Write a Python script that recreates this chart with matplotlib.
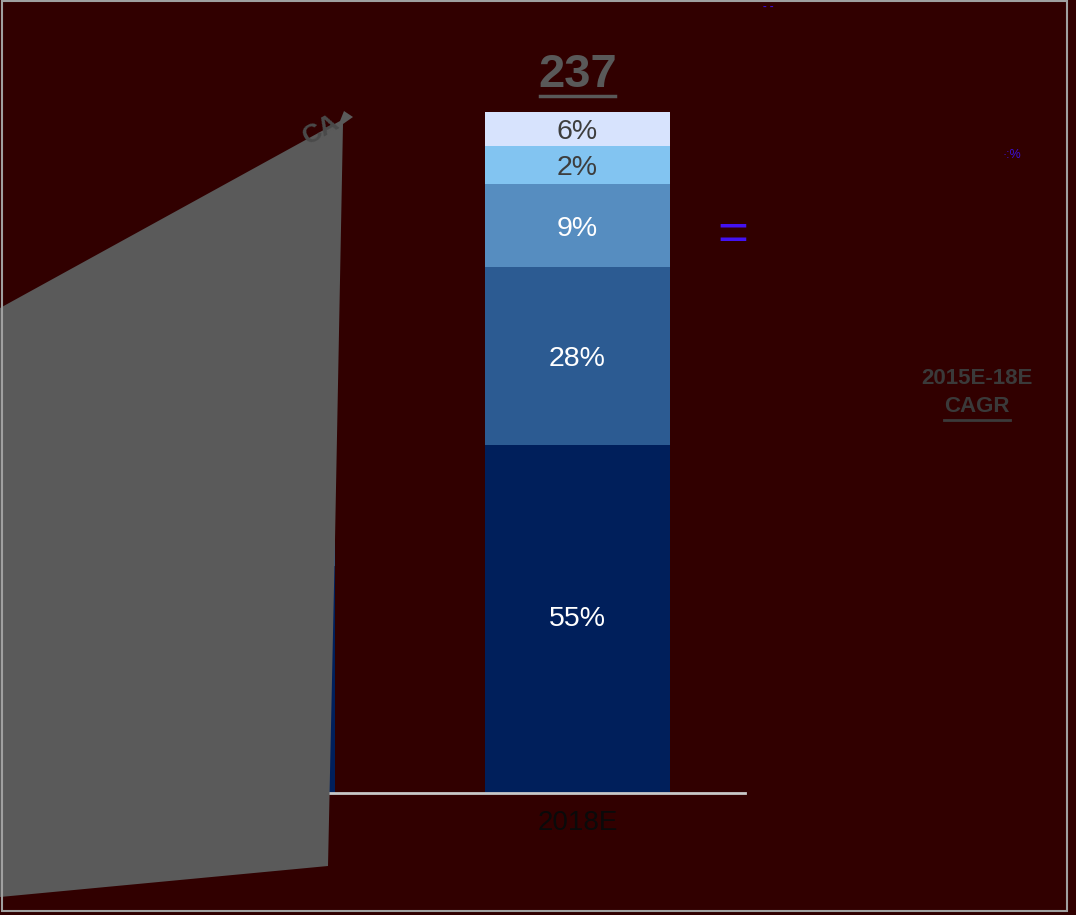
import matplotlib
matplotlib.use("Agg")
import matplotlib.pyplot as plt
from matplotlib.patches import Polygon, Rectangle
from matplotlib.lines import Line2D
import numpy as np

plt.rcParams['font.family'] = ['Liberation Sans', 'DejaVu Sans']

# ---- data ----
categories = ["2015E", "2018E"]
totals = [149, 237]
seg_2015 = [79, 38, 14, 8, 10]          # mostly hidden behind the overlay shape
seg_2018 = [121, 62, 29, 13, 12]        # drawn heights
share_labels_2018 = ["55%", "28%", "9%", "2%", "6%"]
seg_colors = ["#001f5b", "#2c5b92", "#568dc0", "#82c4f1", "#d7e3fd"]
label_colors = ["white", "white", "white", "#3d3d3d", "#3d3d3d"]
cagr_label = ["2015E-18E", "CAGR"]

BG = "#310000"
W, H = 1076, 915
fig = plt.figure(figsize=(W / 100, H / 100), dpi=100, facecolor=BG)

# main axes (pixel frame: x 329..745, y 20..793)
ax_l, ax_r, ax_t, ax_b = 329, 745, 20, 793
ax = fig.add_axes([ax_l / W, (H - ax_b) / H, (ax_r - ax_l) / W, (ax_b - ax_t) / H])
ax.set_facecolor(BG)
px_per_unit = 681 / 237.0
spacing = 335.0
x = np.arange(len(categories))
width = 185 / spacing

segs = [seg_2015, seg_2018]
for i, s in enumerate(segs):
    bottom = 0
    for j, v in enumerate(s):
        ax.bar(x[i], v, width=width, bottom=bottom, color=seg_colors[j],
               edgecolor="none", zorder=2)
        if i == 1:
            ax.text(x[i], bottom + v / 2, share_labels_2018[j], ha="center",
                    va="center" if j == 0 else "center_baseline",
                    fontsize=20.5, color=label_colors[j], zorder=3)
        bottom += v

for side in ["left", "right", "top"]:
    ax.spines[side].set_visible(False)
ax.spines["bottom"].set_color("#c8c8c8")
ax.spines["bottom"].set_linewidth(2)
ax.set_yticks([])
ax.set_xticks(x)
ax.set_xticklabels(categories, fontsize=20, color="#0a0a0a")
ax.tick_params(axis="x", length=0, pad=12)
ax.set_xlim(1 - (577.5 - ax_l) / spacing, 1 + (ax_r - 577.5) / spacing)
ax.set_ylim(0, (ax_b - ax_t) / px_per_unit)

t237 = ax.annotate(str(totals[1]), xy=(x[1], sum(seg_2018)), xytext=(0, 18),
                   textcoords="offset points", ha="center", va="baseline",
                   fontsize=34, fontweight="bold", color="#595959")

# overlay in pixel coordinates
ov = fig.add_axes([0, 0, 1, 1])
ov.set_xlim(0, W)
ov.set_ylim(H, 0)
ov.axis("off")
ov.patch.set_alpha(0)

shape = [(0, 308), (340, 121), (344, 111), (353, 117), (343, 124),
         (335, 540), (328, 866), (0, 897)]
ov.add_patch(Polygon(shape, closed=True, facecolor="#5a5a5a", edgecolor="none", zorder=5))
ov.text(321, 130, "CA", rotation=29, ha="center", va="center", fontsize=19,
        fontweight="bold", color="#4a4a4a", zorder=6)

ov.text(977, 378, cagr_label[0], ha="center", va="center", fontsize=16,
        fontweight="bold", color="#3a3a3a")
tc = ov.text(977, 406, cagr_label[1], ha="center", va="center", fontsize=16,
             fontweight="bold", color="#3a3a3a")

ov.text(733, 236, "=", ha="center", va="center", fontsize=38,
        color="#4312f2")
ov.text(1012, 155, "·:%", ha="center", va="center", fontsize=9, color="#3b10d8")
ov.text(768, 6, "- -", ha="center", va="center", fontsize=8, fontweight="bold",
        color="#3b10d8")

ov.add_patch(Rectangle((2, 1), 1065, 910, facecolor="none", edgecolor="#a0a0a0",
                       lw=1.5, zorder=7))

# underlines
fig.canvas.draw()
r = fig.canvas.get_renderer()
bb = t237.get_window_extent(r)
ov.add_line(Line2D([bb.x0 + 2, bb.x1 - 2], [H - bb.y0 - 1, H - bb.y0 - 1],
                   color="#595959", lw=2.5))
bb2 = tc.get_window_extent(r)
ov.add_line(Line2D([bb2.x0, bb2.x1], [H - bb2.y0 + 3, H - bb2.y0 + 3], color="#3a3a3a", lw=2))

fig.savefig("out.png", dpi=100, facecolor=BG)
